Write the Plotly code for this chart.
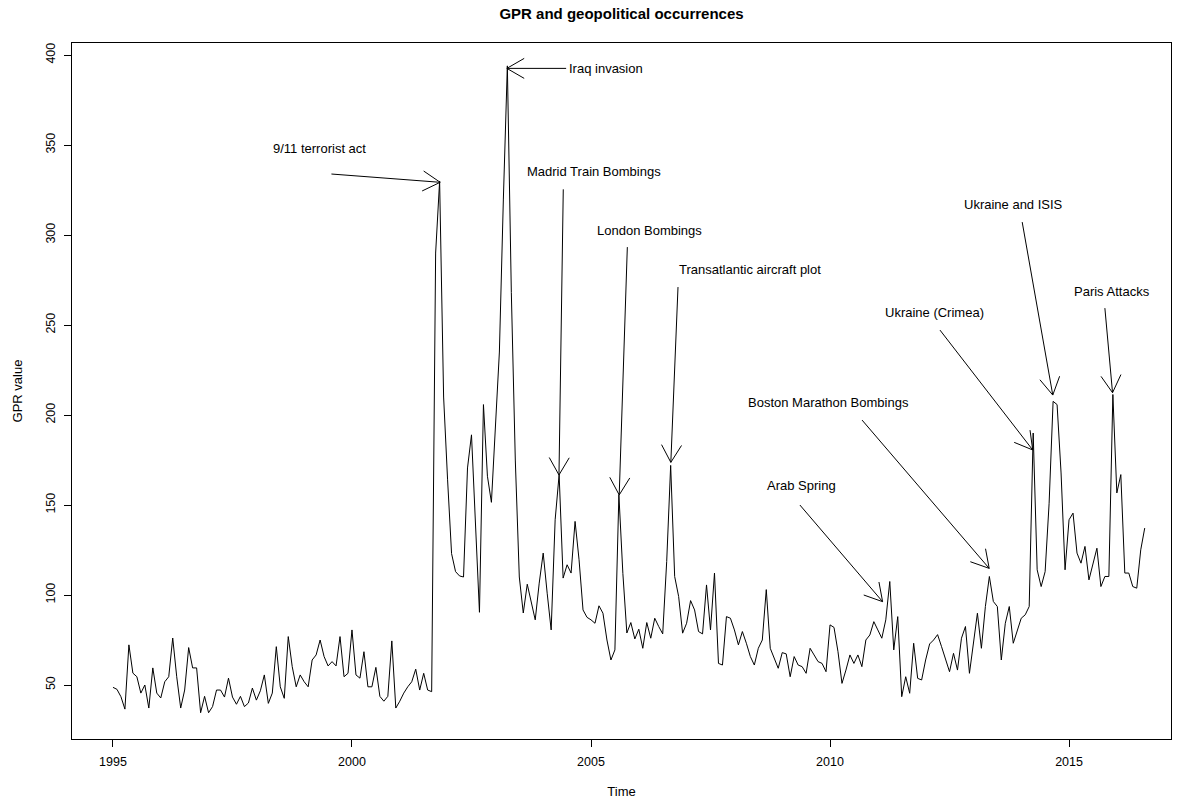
import math
import plotly.graph_objects as go

# ---------------- data ----------------
START_YEAR = 1995  # monthly series, first observation at 1995.0

gpr_values = [
    48.7, 47.6, 43.5, 36.6, 72.3, 56.6, 54.6, 45.5, 50.0, 37.2, 59.5, 45.5,
    42.8, 51.8, 54.6, 76.1, 54.6, 37.2, 47.2, 70.8, 59.5, 59.5, 34.6, 43.7,
    34.6, 38.0, 47.2, 47.2, 43.3, 53.8, 43.3, 39.3, 43.7, 38.0, 40.0, 48.3,
    41.6, 46.8, 55.6, 39.8, 45.5, 71.3, 49.0, 42.6, 76.9, 60.2, 49.0, 55.6,
    51.8, 49.0, 63.9, 66.7, 75.0, 65.8, 60.6, 63.0, 60.6, 76.9, 54.6, 56.5,
    80.6, 55.6, 53.8, 68.5, 49.0, 49.0, 59.8, 43.7, 41.0, 43.7, 74.5, 37.2,
    41.0, 45.5, 49.0, 51.8, 58.8, 47.2, 56.5, 47.2, 46.3, 290.0, 330.0, 210.0,
    164.0, 123.0, 113.0, 110.6, 110.0, 170.6, 189.0, 135.0, 90.4, 205.8, 166.0, 151.5,
    192.0, 235.0, 320.0, 394.0, 268.0, 175.0, 110.0, 90.0, 106.0, 96.4, 86.2, 106.6,
    123.3, 101.0, 80.6, 141.8, 166.9, 109.4, 116.8, 112.2, 140.9, 119.6, 91.7, 87.6,
    86.2, 84.3, 94.0, 89.9, 75.0, 63.9, 69.5, 155.7, 112.0, 78.9, 84.7, 75.6,
    81.0, 70.4, 84.7, 76.0, 87.1, 82.5, 78.4, 118.6, 172.0, 110.3, 99.2, 78.8,
    84.3, 96.9, 91.7, 79.7, 78.4, 105.6, 80.6, 112.2, 62.0, 61.1, 88.0, 87.1,
    80.6, 72.3, 79.7, 73.2, 65.8, 61.1, 70.4, 75.0, 103.0, 70.4, 64.8, 59.3,
    68.0, 67.3, 54.6, 65.8, 61.1, 60.2, 56.5, 70.4, 66.7, 63.0, 62.0, 57.4,
    83.4, 82.0, 68.5, 50.9, 58.3, 66.7, 62.0, 66.7, 60.2, 75.0, 77.8, 85.2,
    80.6, 76.0, 86.2, 107.5, 69.5, 88.0, 43.5, 54.6, 45.4, 73.2, 53.7, 52.8,
    63.9, 72.8, 75.0, 78.0, 71.3, 63.9, 57.4, 67.6, 58.3, 76.0, 82.5, 56.5,
    73.2, 89.9, 70.4, 93.6, 110.3, 96.4, 93.6, 63.9, 84.3, 93.6, 73.2, 80.6,
    87.1, 89.0, 93.6, 190.0, 114.0, 104.7, 113.0, 151.0, 207.6, 205.8, 167.8, 114.0,
    141.8, 145.5, 123.3, 117.7, 127.0, 108.4, 116.8, 126.0, 104.7, 110.3, 110.3, 211.4,
    156.7, 166.9, 112.2, 112.2, 104.7, 103.8, 125.1, 137.2,
]
times = [START_YEAR + i / 12 for i in range(len(gpr_values))]

event_labels = [
    "9/11 terrorist act", "Iraq invasion", "Madrid Train Bombings",
    "London Bombings", "Transatlantic aircraft plot", "Boston Marathon Bombings",
    "Arab Spring", "Ukraine (Crimea)", "Ukraine and ISIS", "Paris Attacks",
]
label_x = [1999.33, 2005.31, 2005.06, 2006.23, 2008.33, 2009.97, 2009.41, 2012.18, 2013.83, 2015.89]
label_y = [348.0, 392.6, 335.2, 302.8, 280.6, 207.2, 160.6, 257.2, 316.7, 268.9]
arrow_from_x = [1999.57, 2004.48, 2004.42, 2005.76, 2006.82, 2010.67, 2009.37, 2012.30, 2014.02, 2015.75]
arrow_from_y = [333.9, 392.6, 325.4, 293.3, 271.1, 197.2, 150.0, 247.2, 307.2, 259.4]
arrow_to_x = [2001.845, 2003.24, 2004.33, 2005.59, 2006.67, 2013.33, 2011.10, 2014.24, 2014.66, 2015.91]
arrow_to_y = [329.3, 392.6, 166.7, 155.6, 173.7, 114.8, 96.3, 180.6, 211.1, 212.4]

x_ticks = [1995, 2000, 2005, 2010, 2015]
y_ticks = [50, 100, 150, 200, 250, 300, 350, 400]

# ---------------- layout geometry ----------------
W, H = 1178, 803
M = dict(l=72, r=7, t=43, b=64)
x_range = [1994.143, 2017.133]
y_range = [20.0, 406.7]
px_x = (W - M["l"] - M["r"]) / (x_range[1] - x_range[0])
px_y = (H - M["t"] - M["b"]) / (y_range[1] - y_range[0])

FONT = "Liberation Sans, Arial, sans-serif"
INK = "#000000"

fig = go.Figure()
fig.add_trace(go.Scatter(
    x=times, y=gpr_values, mode="lines",
    line=dict(color=INK, width=1), hoverinfo="x+y", showlegend=False,
))

shapes = []
annotations = []
HEAD_LEN = 20.0
HEAD_ANG = math.radians(30)
for lab, lx, ly, fx, fy, tx, ty in zip(event_labels, label_x, label_y,
                                       arrow_from_x, arrow_from_y,
                                       arrow_to_x, arrow_to_y):
    annotations.append(dict(
        x=lx, y=ly, xref="x", yref="y", text=lab, showarrow=False,
        xanchor="center", yanchor="middle",
        font=dict(family=FONT, size=13, color=INK),
    ))
    shapes.append(dict(type="line", xref="x", yref="y", x0=fx, y0=fy, x1=tx, y1=ty,
                       line=dict(color=INK, width=1)))
    # open "V" arrow head (R style), computed in pixel space
    dxp = (fx - tx) * px_x
    dyp = -(fy - ty) * px_y
    theta = math.atan2(dyp, dxp)
    for s in (1, -1):
        a = theta + s * HEAD_ANG
        hx = tx + HEAD_LEN * math.cos(a) / px_x
        hy = ty - HEAD_LEN * math.sin(a) / px_y
        shapes.append(dict(type="line", xref="x", yref="y", x0=tx, y0=ty, x1=hx, y1=hy,
                           line=dict(color=INK, width=1)))

axis_common = dict(
    showgrid=False, zeroline=False, showline=True, mirror=True,
    linecolor=INK, linewidth=1, ticks="outside", ticklen=7, tickwidth=1,
    tickcolor=INK, tickfont=dict(family=FONT, size=12.5, color=INK),
    ticklabelstandoff=4, automargin=False,
)

fig.update_layout(
    width=W, height=H, margin=M,
    paper_bgcolor="white", plot_bgcolor="white",
    title=dict(text="<b>GPR and geopolitical occurrences</b>", x=(M["l"] + (W - M["r"])) / 2 / W,
               xanchor="center", y=1 - 14 / H, yanchor="middle",
               font=dict(family=FONT, size=15, color=INK)),
    xaxis=dict(range=x_range, tickvals=x_ticks, ticktext=[str(v) for v in x_ticks],
               title=dict(text="Time", standoff=18, font=dict(family=FONT, size=13, color=INK)),
               **axis_common),
    yaxis=dict(range=y_range, tickvals=y_ticks, ticktext=[str(v) for v in y_ticks],
               tickangle=-90,
               title=dict(text="GPR value", standoff=18, font=dict(family=FONT, size=13, color=INK)),
               **axis_common),
    shapes=shapes, annotations=annotations,
)

fig.write_html("out.html", config={"displayModeBar": False},
               post_script="document.body.style.margin='0';document.body.style.overflow='hidden';")
